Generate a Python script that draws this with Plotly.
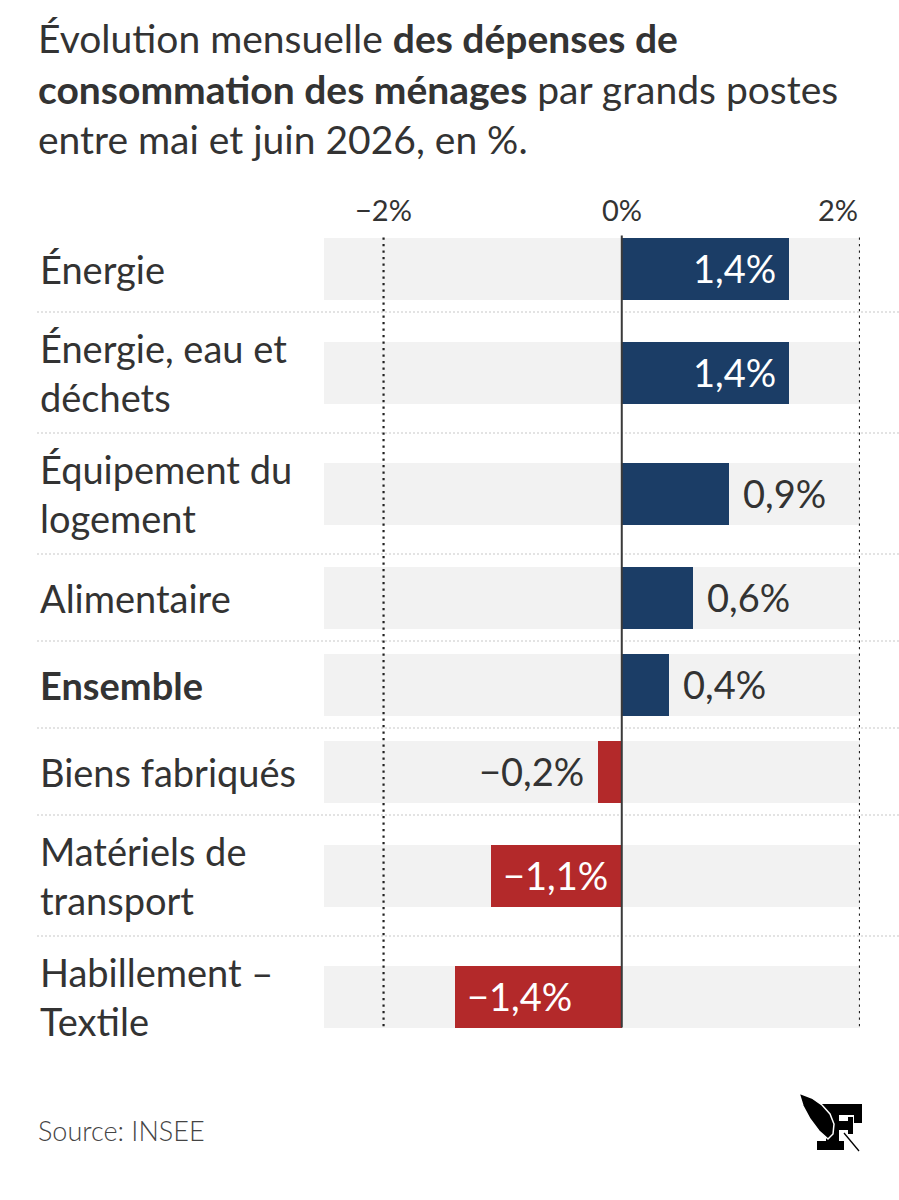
import textwrap
import plotly.graph_objects as go

# ---------------- data ----------------
categories = ["Énergie", "Énergie, eau et déchets", "Équipement du logement",
              "Alimentaire", "Ensemble", "Biens fabriqués",
              "Matériels de transport", "Habillement – Textile"]
values = [1.4, 1.4, 0.9, 0.6, 0.4, -0.2, -1.1, -1.4]
bold_categories = ["Ensemble"]
tick_values = [-2, 0, 2]
tick_labels = ["−2%", "0%", "2%"]
title_html = ("Évolution mensuelle <b>des dépenses de<br>consommation des ménages</b>"
              " par grands postes<br>entre mai et juin 2026, en %.")
source_text = "Source: INSEE"

# ---------------- style ----------------
W, H = 899, 1200
FONT = "Lato"
TXT = "#333333"
BLUE = "#1b3d66"
RED = "#b3292a"
BAND = "#f2f2f2"
X_MIN, X_MAX = -2.5, 2.0
PLOT_L, PLOT_R = 324, 860
PLOT_T = 225
BAR_H = 62

labels = ["<br>".join(textwrap.wrap(c, 15)) for c in categories]
n_lines = [l.count("<br>") + 1 for l in labels]
row_h = [53 + 34 * k for k in n_lines]
tops, centers = [], []
acc = 0
for h in row_h:
    tops.append(acc)
    centers.append(acc + h / 2)
    acc += h
total_h = acc
PLOT_B = PLOT_T + total_h


def px_x(px):
    return (px - PLOT_L) / (PLOT_R - PLOT_L)


def px_y(py):
    return (PLOT_B - py) / (PLOT_B - PLOT_T)


fig = go.Figure()
fig.add_trace(go.Bar(orientation="h", y=centers, x=[X_MAX - X_MIN] * len(centers),
                     base=X_MIN, width=BAR_H, marker=dict(color=BAND, line=dict(width=0)),
                     hoverinfo="skip", showlegend=False))
fig.add_trace(go.Bar(orientation="h", y=centers, x=values, width=BAR_H,
                     marker=dict(color=[BLUE if v >= 0 else RED for v in values],
                                 line=dict(width=0)),
                     hoverinfo="skip", showlegend=False))

shapes = []
# row separators
for t in tops[1:]:
    shapes.append(dict(type="line", xref="paper", yref="y", x0=px_x(37), x1=px_x(899),
                       y0=t, y1=t, line=dict(color="#c8c8c8", width=1.2, dash="2px,2px"),
                       layer="below"))
band_top = centers[0] - BAR_H / 2
band_bot = centers[-1] + BAR_H / 2
for tv in tick_values:
    if tv == 0:
        shapes.append(dict(type="line", xref="x", yref="y", x0=0, x1=0,
                           y0=band_top - 2, y1=band_bot, line=dict(color="#3a3a3a", width=2)))
    else:
        shapes.append(dict(type="line", xref="x", yref="y", x0=tv, x1=tv,
                           y0=band_top, y1=band_bot,
                           line=dict(color="#222222", width=2.2, dash="2.2px,4.3px")))

annotations = []
# title
annotations.append(dict(text=title_html, xref="paper", yref="paper", x=px_x(36),
                        y=px_y(89), xanchor="left", yanchor="middle", align="left",
                        showarrow=False, font=dict(family=FONT, size=39, color=TXT)))
# category labels
for lab, cat, c in zip(labels, categories, centers):
    txt = f"<b>{lab}</b>" if cat in bold_categories else lab
    annotations.append(dict(text=txt, xref="paper", yref="y", x=px_x(38), y=c,
                            xanchor="left", yanchor="middle", align="left", showarrow=False,
                            font=dict(family=FONT, size=38, color=TXT)))
# value labels
for v, c in zip(values, centers):
    s = f"{abs(v):.1f}".replace(".", ",") + "%"
    s = ("−" + s) if v < 0 else s
    inside = abs(v) >= 1.0
    if v >= 0:
        anchor, shift = ("right", -11) if inside else ("left", 12)
    else:
        anchor, shift = ("left", 10) if inside else ("right", -12)
    annotations.append(dict(text=s, xref="x", yref="y", x=v, y=c, xanchor=anchor,
                            yanchor="middle", xshift=shift, yshift=1, showarrow=False,
                            font=dict(family=FONT, size=38,
                                      color="white" if inside else TXT)))
# tick labels on top
for tv, tl in zip(tick_values, tick_labels):
    anchor = "right" if tv == X_MAX else "center"
    annotations.append(dict(text=tl, xref="x", yref="paper", x=tv, y=px_y(210),
                            xanchor=anchor, yanchor="middle", showarrow=False,
                            font=dict(family=FONT, size=29, color=TXT)))
# source
annotations.append(dict(text=source_text, xref="paper", yref="paper", x=px_x(36),
                        y=px_y(1130), xanchor="left", yanchor="middle", showarrow=False,
                        font=dict(family=FONT, size=27, color="#444444", weight=300)))


# logo (simplified "F" with feather)
def rect(x0, y0, x1, y1):
    return dict(type="rect", xref="paper", yref="paper", x0=px_x(x0), x1=px_x(x1),
                y0=px_y(y1), y1=px_y(y0), fillcolor="black", line=dict(width=0))


shapes += [rect(822, 1104, 862, 1115), rect(854, 1104, 862, 1123),
           rect(826, 1104, 839, 1146), rect(817, 1141, 844, 1150),
           rect(839, 1121, 852, 1130), rect(848, 1117, 853, 1134)]
wing = [(799, 1093), (812, 1098), (822, 1105), (830, 1114), (834, 1124),
        (833, 1134), (828, 1139), (819, 1131), (810, 1119), (803, 1106)]
path = "M " + " L ".join(f"{px_x(a):.5f},{px_y(b):.5f}" for a, b in wing) + " Z"
shapes.append(dict(type="path", xref="paper", yref="paper", path=path,
                   fillcolor="black", line=dict(color="white", width=1.5)))
shapes.append(dict(type="line", xref="paper", yref="paper", x0=px_x(844), y0=px_y(1133),
                   x1=px_x(859), y1=px_y(1151), line=dict(color="black", width=1.3)))

fig.update_layout(
    width=W, height=H, paper_bgcolor="white", plot_bgcolor="white",
    barmode="overlay", bargap=0,
    margin=dict(l=PLOT_L, r=W - PLOT_R, t=PLOT_T, b=H - PLOT_B, autoexpand=False),
    xaxis=dict(range=[X_MIN, X_MAX], showgrid=False, zeroline=False, showticklabels=False,
               ticks="", showline=False, fixedrange=True),
    yaxis=dict(range=[total_h, 0], showgrid=False, zeroline=False, showticklabels=False,
               ticks="", showline=False, fixedrange=True),
    shapes=shapes, annotations=annotations, showlegend=False,
)

fig.write_html("out.html")
